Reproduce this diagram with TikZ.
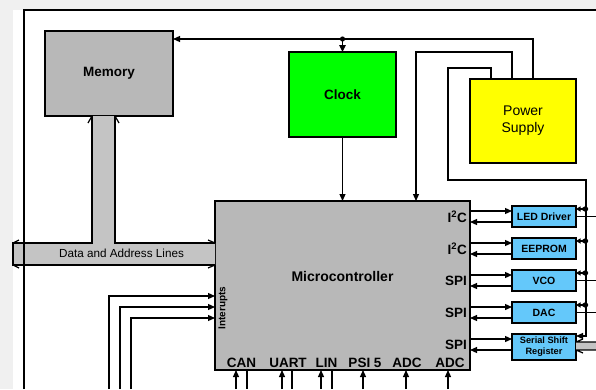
\documentclass[tikz,border=0pt]{standalone}
\usepackage{fontspec}
\setmainfont{Liberation Sans}
\usetikzlibrary{arrows.meta, positioning, calc}
\definecolor{boxgray}{RGB}{184,184,184}
\definecolor{busgray}{RGB}{196,196,196}
\definecolor{clkgreen}{RGB}{0,255,0}
\definecolor{pwryellow}{RGB}{255,255,0}
\definecolor{periblue}{RGB}{100,200,250}
\definecolor{pagegray}{RGB}{240,240,240}
\tikzset{
    base/.style = {
        draw=black, line width=1.3pt, inner sep=0pt, outer sep=0pt, align=center
    },
    % Blocks
    block/.style  = {base, fill=boxgray, font=\bfseries\fontsize{13.5}{16}\selectfont},
    supply/.style = {base, fill=pwryellow, font=\fontsize{14}{17}\selectfont},
    periph/.style = {base, fill=periblue, minimum width=64pt, minimum height=21pt,
                     font=\bfseries\fontsize{10.5}{12}\selectfont},
    port/.style   = {inner sep=0pt, font=\bfseries\fontsize{13.5}{16}\selectfont},
    % Wires and buses
    wire/.style  = {line width=1.2pt},
    arrow/.style = {wire, -{Triangle[length=7pt,width=6pt]}},
    dblarrow/.style = {wire, -{Triangle[length=4.5pt,width=5pt]Triangle[length=4.5pt,width=5pt]}},
    bus/.style   = {fill=busgray}
}

\begin{document}
\begin{tikzpicture}[x=1pt, y=-1pt]
    % Page
    \useasboundingbox (0,0) rectangle (596,389);
    \fill[pagegray] (0,0) rectangle (596,389);
    \fill[white] (13,9.5) rectangle (596,389);

    % Blocks
    \node (mem) [block, minimum width=128pt, minimum height=85pt] at (109,73.5) {Memory};
    \node (clk) [block, fill=clkgreen, minimum width=107pt, minimum height=85pt] at (342.5,94.5) {Clock};
    \node (pwr) [supply, minimum width=106pt, minimum height=84pt] at (523,121) {Power\\Supply};
    \node (mcu) [block, minimum width=255pt, minimum height=169pt] at (342.5,285.5) {};
    \node (mcutext) [port, font=\bfseries\fontsize{14}{16}\selectfont] at (342.5,276) {Microcontroller};
    \node (irq) [port, font=\bfseries\fontsize{10}{12}\selectfont, rotate=90] at (223,308) {Interupts};

    % Peripherals on the right
    \node (led) [periph] at (544,216.5) {LED Driver};
    \node (eeprom) [periph, below=11pt of led] {EEPROM};
    \node (vco) [periph, below=11pt of eeprom] {VCO};
    \node (dac) [periph, below=11pt of vco] {DAC};
    \node (ssr) [periph, below=11pt of dac, minimum height=26pt,
                 font=\bfseries\fontsize{9.2}{11}\selectfont] {Serial Shift\\Register};

    % Data and address bus
    \fill[bus] (92,116) -- (92,243) -- (13,243) -- (13,265) -- (215,265) -- (215,243) -- (115,243) -- (115,116) -- cycle;
    \draw[wire] (92,116) -- (92,243) -- (13,243) -- (13,265) -- (215,265);
    \draw[wire] (115,116) -- (115,243) -- (215,243);
    \draw[wire] (88,123) -- (92,116) (119,123) -- (115,116)
                (19,240) -- (13,243) (19,268) -- (13,265)
                (208,240) -- (215,243) (208,268) -- (215,265);
    \node (buslbl) [font=\fontsize{11.7}{14}\selectfont] at (121.5,253.5) {Data and Address Lines};

    % Serial bus into the shift register
    \fill[bus] (576,342) rectangle (596,350);
    \draw[wire] (596,342) -- (576,342) (596,350) -- (576,350)
                (583,339) -- (576,342) (583,353) -- (576,350);

    % Frame
    \draw[wire] (24,389) -- (24,10) -- (596,10);

    % Clock and supply wiring
    \coordinate (ptop1) at (533,39);
    \coordinate (ptop2) at (512,52);
    \coordinate (ptop3) at (491,68);
    \coordinate (cdot) at (342.5,39);
    \coordinate (wl2) at (416,52);
    \coordinate (wl3) at (448,68);
    \coordinate (wb3) at (586,180);
    \coordinate (redge) at (596,0);
    \coordinate (ssrin) at ([yshift=-2pt]ssr.north east);

    \draw[arrow] (pwr.north -| ptop1) -- (ptop1) -- (mem.east |- ptop1);
    \fill (cdot) circle (2.6pt);
    \draw[wire, -{Triangle[length=7pt,width=6.5pt]}] (cdot) -- (clk.north);
    \draw[arrow] (clk.south) -- (clk.south |- mcu.north);
    \draw[arrow] (pwr.north -| ptop2) -- (ptop2) -- (wl2) -- (wl2 |- mcu.north);
    \draw[arrow] (pwr.north -| ptop3) -- (ptop3) -- (wl3) |- (wb3) -- (wb3 |- ssrin) -- (ssrin);

    % Microcontroller <-> peripherals
    \foreach \n/\p in {led/I\textsuperscript{2}C, eeprom/I\textsuperscript{2}C, vco/SPI, dac/SPI, ssr/SPI} {
        \path ([yshift=-5pt]\n.north west) coordinate (\n-tx)
              ([yshift=-16pt]\n.north west) coordinate (\n-rx)
              ($(\n-tx)!0.5!(\n-rx)$) coordinate (\n-mid);
        \draw[arrow] (mcu.east |- \n-tx) -- (\n-tx);
        \draw[arrow] (\n-rx) -- (mcu.east |- \n-rx);
        \node (\n-port) [port, anchor=east, xshift=-3pt] at (mcu.east |- \n-mid) {\p};
    }

    % Supply taps on the right
    \foreach \n in {led, eeprom, vco, dac} {
        \path ([yshift=-3pt]\n.north east) coordinate (\n-pw);
        \fill (wb3 |- \n-pw) circle (2.2pt);
        \draw[dblarrow] (wb3 |- \n-pw) -- (\n-pw);
    }
    \foreach \n in {led, vco, dac}
        \draw[wire] (\n.east) -- (\n.east -| redge);

    % Interrupt inputs
    \foreach \x/\y in {109/296, 120/307, 131/318} {
        \path (\x,389) coordinate (irqb) (\x,\y) coordinate (irqc);
        \draw[arrow] (irqb) |- (mcu.west |- irqc);
    }

    % Bottom ports
    \foreach \x/\t [count=\i] in {241.5/CAN, 288/UART, 326.5/LIN, 365/PSI 5, 407/ADC, 450/ADC}
        \node (port\i) [port, anchor=base] at (\x,367.5) {\t};
    \foreach \x in {236, 282, 321, 363, 406, 448} {
        \path (\x,389) coordinate (pin);
        \draw[arrow] (pin) -- (pin |- mcu.south);
    }
    \foreach \x in {247, 292, 332} {
        \path (\x,389) coordinate (pout);
        \draw[wire] (pout |- mcu.south) -- (pout);
    }
\end{tikzpicture}
\end{document}
